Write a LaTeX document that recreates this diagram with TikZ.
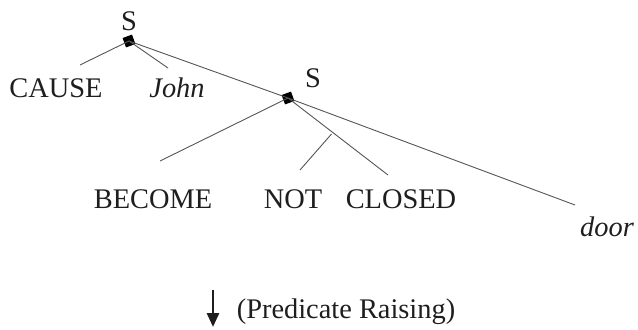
\documentclass[tikz,border=0pt]{standalone}
\usepackage{fontspec}
\setmainfont{Liberation Serif}
\usetikzlibrary{arrows.meta}
\definecolor{branch}{HTML}{555555}
\definecolor{ink}{HTML}{1E1E1E}
\begin{document}
\begin{tikzpicture}[x=1bp,y=-1bp,
  word/.style={inner sep=0pt,anchor=base,text=ink,font=\fontsize{28.5}{32}\selectfont},
  knot/.style={fill=black,draw=none,minimum size=10bp,inner sep=0pt,rotate=20},
  edge/.style={draw=branch,line width=0.9bp}]
\useasboundingbox (0,0) rectangle (638,329);

% tree nodes
\node[knot] (s1) at (129,41) {};
\node[knot] (s2) at (288,98) {};
\node[word] (s1lab) at (129,30) {S};
\node[word] (s2lab) at (313,87) {S};

% leaves
\node[word] (cause)  at (56,97)  {CAUSE};
\node[word] (john)   at (177,97) {\itshape John};
\node[word] (become) at (153,208) {BECOME};
\node[word] (not)    at (293,208) {NOT};
\node[word] (closed) at (401,208) {CLOSED};
\node[word] (door)   at (607,236) {\itshape door};

% branch ends
\coordinate (ecause) at (80,65);
\coordinate (ejohn) at (168,68);
\coordinate (ebecome) at (160,161);
\coordinate (eclosed) at (388,175);
\coordinate (fork) at (331.5,134);
\coordinate (enot) at (300,170);
\coordinate (edoor) at (575,205);

\draw[edge] (s1.center) -- (ecause);
\draw[edge] (s1.center) -- (ejohn);
\draw[edge] (s1.center) -- (s2.center);
\draw[edge] (s2.center) -- (ebecome);
\draw[edge] (s2.center) -- (eclosed);
\draw[edge] (fork) -- (enot);
\draw[edge] (s2.center) -- (edoor);

% derivation step
\node[word] (rule) at (346,318) {(Predicate Raising)};
\coordinate (atop) at (213,290);
\coordinate (abot) at (213,327);
\draw[line width=2.8bp,draw=ink,-{Triangle[width=12bp,length=14bp]}] (atop) -- (abot);
\end{tikzpicture}
\end{document}
